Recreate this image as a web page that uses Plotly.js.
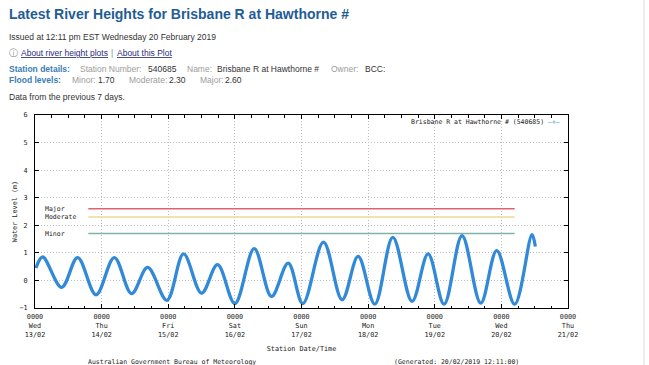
<!DOCTYPE html>
<html><head><meta charset="utf-8">
<script src="https://cdn.plot.ly/plotly-3.0.1.min.js"></script>
<style>html,body{margin:0;padding:0;background:#fff;overflow:hidden}#chart{width:649px;height:365px}</style>
</head><body><div id="chart"></div>
<script>
// ---- data ----
const times = ['2019-02-13 00:20','2019-02-13 02:46','2019-02-13 09:36','2019-02-13 15:22','2019-02-13 21:59',
  '2019-02-14 04:34','2019-02-14 10:48','2019-02-14 16:34','2019-02-14 23:31',
  '2019-02-15 05:31','2019-02-15 12:00','2019-02-15 17:46',
  '2019-02-16 00:00','2019-02-16 06:58','2019-02-16 13:12','2019-02-16 19:12',
  '2019-02-17 00:29','2019-02-17 07:55','2019-02-17 14:38','2019-02-17 20:24',
  '2019-02-18 02:24','2019-02-18 08:53','2019-02-18 15:50','2019-02-18 21:36',
  '2019-02-19 03:22','2019-02-19 09:50','2019-02-19 16:34','2019-02-19 22:19',
  '2019-02-20 04:48','2019-02-20 11:02','2019-02-20 12:14'];
const levels = [0.45,0.85,-0.25,0.83,-0.52,
  0.83,-0.48,0.47,-0.72,
  0.96,-0.46,0.57,
  -0.84,1.15,-0.58,0.63,
  -0.84,1.39,-0.70,0.87,
  -0.86,1.56,-0.76,0.96,
  -0.86,1.62,-0.82,1.08,
  -0.86,1.66,1.23];
const floodNames = ['Minor','Moderate','Major'];
const floodLevels = [1.70, 2.30, 2.60];
const floodColors = ['#7fb3a9','#eadb93','#e0626e'];
const floodStart = '2019-02-13 19:12';
const floodEnd = '2019-02-20 04:48';
const floodLabelX = '2019-02-13 03:00';
const tickDates = ['2019-02-13','2019-02-14','2019-02-15','2019-02-16','2019-02-17','2019-02-18','2019-02-19','2019-02-20','2019-02-21'];
const tickLabels = ['0000<br>Wed<br>13/02','0000<br>Thu<br>14/02','0000<br>Fri<br>15/02','0000<br>Sat<br>16/02',
  '0000<br>Sun<br>17/02','0000<br>Mon<br>18/02','0000<br>Tue<br>19/02','0000<br>Wed<br>20/02','0000<br>Thu<br>21/02'];
const yTicks = [-1,0,1,2,3,4,5,6];

// ---- layout geometry ----
const W=649,H=365,L=35,R=568,T=115,B=308;
const px=x=>(x-L)/(R-L), py=y=>(B-y)/(B-T);
const MONO='DejaVu Sans Mono', SANS='Liberation Sans, Arial, sans-serif';

const traces = [];
floodNames.forEach((n,i)=>{
  traces.push({x:[floodStart,floodEnd], y:[floodLevels[i],floodLevels[i]], mode:'lines',
    line:{color:floodColors[i], width:1.5}, hoverinfo:'skip', showlegend:false});
});
traces.push({x:times, y:levels, mode:'lines', line:{color:'#3189d8', width:3.3, shape:'spline', smoothing:1},
  name:'Brisbane R at Hawthorne # (540685)', showlegend:false});

const ann = [];
const BS=8.5;
function txt(x,y,text,opt){ann.push(Object.assign({xref:'paper',yref:'paper',x:px(x),y:py(y),text:text,showarrow:false,
  xanchor:'left',yanchor:'middle',font:{family:SANS,size:BS,color:'#333'}},opt||{}));}
// header
txt(7,14,'<b>Latest River Heights for Brisbane R at Hawthorne #</b>',{font:{family:SANS,size:14,color:'#1f5c96'}});
txt(7,37,'Issued at 12:11 pm EST Wednesday 20 February 2019');
txt(7,53,'ⓘ',{font:{family:SANS,size:BS,color:'#888'}});
txt(19,53,'<span style="text-decoration:underline">About river height plots</span>',{font:{family:SANS,size:BS,color:'#2c2c7c'}});
txt(109,53,'|',{font:{family:SANS,size:BS,color:'#888'}});
txt(115,53,'<span style="text-decoration:underline">About this Plot</span>',{font:{family:SANS,size:BS,color:'#2c2c7c'}});
const blue='#3a7db5', grey='#9c9c9c';
txt(7,69,'<b>Station details:</b>',{font:{family:SANS,size:BS,color:blue}});
txt(78,69,'Station Number:',{font:{family:SANS,size:BS,color:grey}});
txt(146,69,'540685');
txt(185,69,'Name:',{font:{family:SANS,size:BS,color:grey}});
txt(215,69,'Brisbane R at Hawthorne #');
txt(329,69,'Owner:',{font:{family:SANS,size:BS,color:grey}});
txt(363,69,'BCC:');
txt(7,80,'<b>Flood levels:</b>',{font:{family:SANS,size:BS,color:blue}});
txt(70,80,'Minor:',{font:{family:SANS,size:BS,color:grey}});
txt(96,80,'1.70');
txt(127,80,'Moderate:',{font:{family:SANS,size:BS,color:grey}});
txt(167,80,'2.30');
txt(198,80,'Major:',{font:{family:SANS,size:BS,color:grey}});
txt(223,80,'2.60');
txt(7,97,'Data from the previous 7 days.');
// legend
txt(562,122,'Brisbane R at Hawthorne # (540685) <span style="color:#3f8fc6">—+—</span>',{xanchor:'right',font:{family:MONO,size:6.5,color:'#222'}});
// flood labels
floodNames.forEach((n,i)=>ann.push({xref:'x',yref:'y',x:floodLabelX,y:floodLevels[i],text:n,showarrow:false,
  xanchor:'left',yanchor:'middle',font:{family:MONO,size:6.5,color:'#222'}}));
// footer
txt(86,362,'Australian Government Bureau of Meteorology',{font:{family:MONO,size:6.5,color:'#222'}});
txt(392,362,'(Generated: 20/02/2019 12:11:00)',{font:{family:MONO,size:6.5,color:'#222'}});

const gridDash='1px,2px', gridCol='#bdbdbd';
const layout = {
  width:W, height:H, margin:{l:L,r:W-R,t:T,b:H-B,pad:0},
  paper_bgcolor:'#fff', plot_bgcolor:'#fff', showlegend:false,
  font:{family:MONO,size:6.5,color:'#222'},
  xaxis:{type:'date', range:[tickDates[0],tickDates[tickDates.length-1]], tickmode:'array', tickvals:tickDates, ticktext:tickLabels,
    ticks:'inside', ticklen:4, tickcolor:'#000', showline:true, linecolor:'#000', linewidth:1, mirror:'ticks',
    showgrid:true, gridcolor:gridCol, griddash:gridDash, gridwidth:1, zeroline:false,
    tickfont:{family:MONO,size:6.8,color:'#222'}, ticklabelstandoff:2,
    minor:{dtick:6*3600*1000, tick0:'2019-02-13', ticks:'inside', ticklen:2.5, tickcolor:'#000', showgrid:false},
    title:{text:'Station Date/Time', font:{family:MONO,size:6.8,color:'#222'}, standoff:8}},
  yaxis:{range:[-1,6], tickmode:'array', tickvals:yTicks, ticks:'inside', ticklen:4, tickcolor:'#000',
    showline:true, linecolor:'#000', linewidth:1, mirror:'ticks', showgrid:true, gridcolor:gridCol, griddash:gridDash,
    zeroline:false, tickfont:{family:MONO,size:6.8,color:'#222'}, ticklabelstandoff:5,
    title:{text:'Water Level (m)', font:{family:MONO,size:6.8,color:'#222'}, standoff:1}},
  annotations:ann,
  shapes:[{type:'line',xref:'paper',yref:'paper',x0:px(644),x1:px(644),y0:py(0),y1:py(365),line:{color:'#dcdcdc',width:1}}]
};
Plotly.newPlot('chart', traces, layout, {staticPlot:true, displayModeBar:false});
</script></body></html>
